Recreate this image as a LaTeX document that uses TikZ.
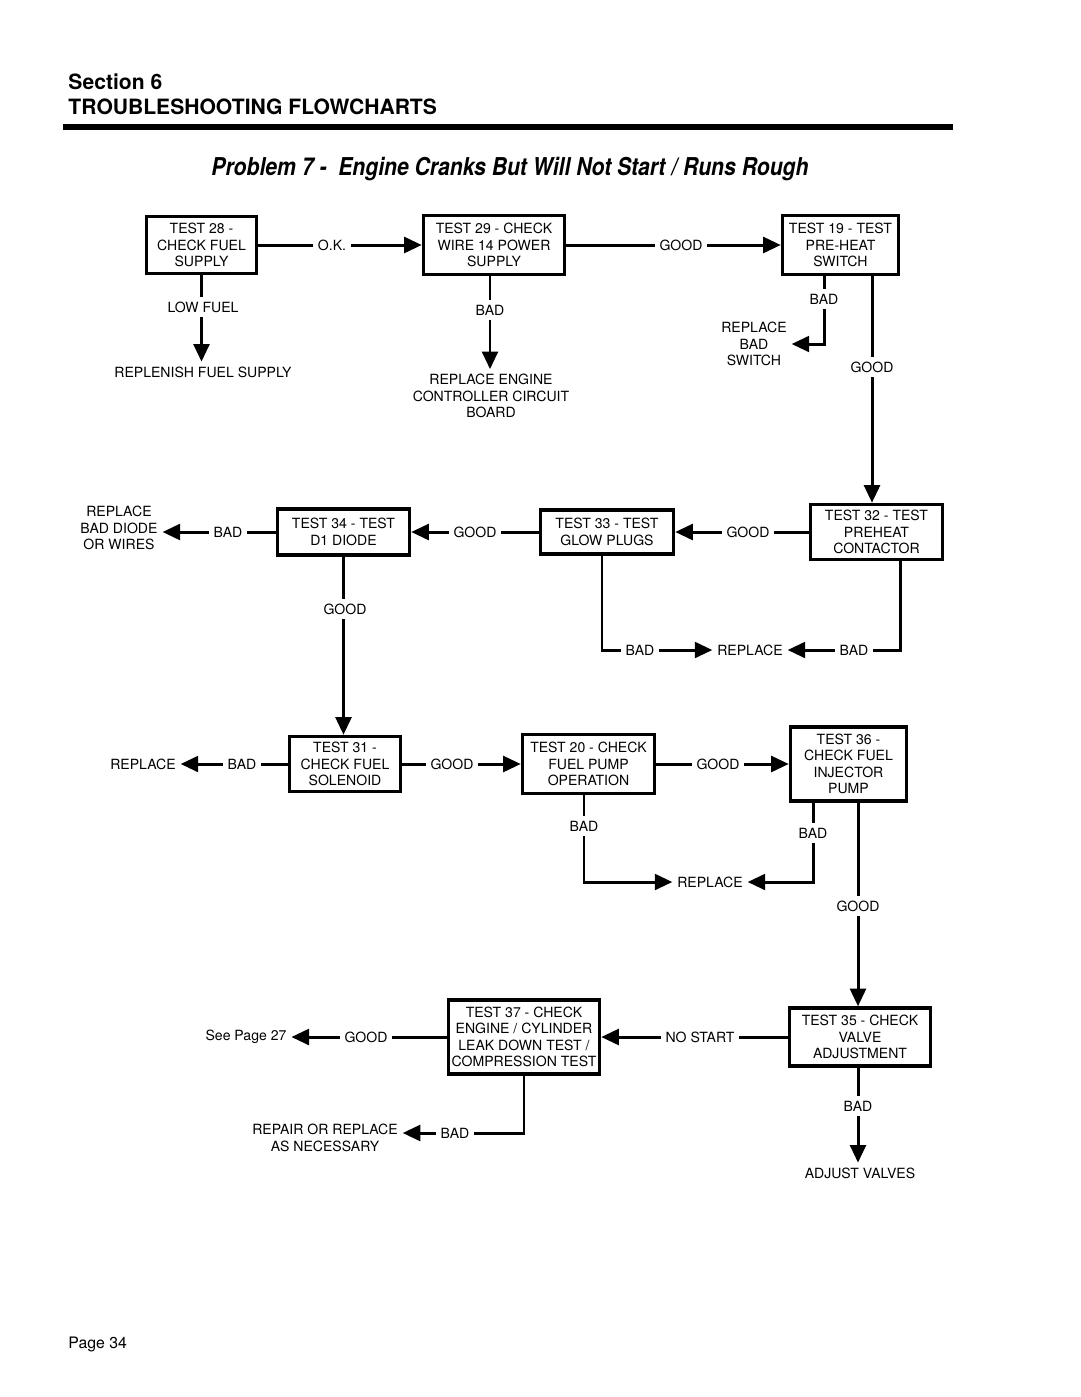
\documentclass[tikz,border=0pt]{standalone}
\usepackage{fontspec}
\setmainfont{TeX Gyre Heros}
\newfontfamily\titlefont[FakeStretch=0.86]{TeX Gyre Heros}
\usetikzlibrary{arrows.meta,positioning}

\begin{document}
\begin{tikzpicture}[x=0.02cm,y=-0.02cm,>={Triangle[length=10pt,width=9pt]},line width=1.7pt]
  \tikzstyle{test}=[draw=black,line width=2pt,align=center,inner sep=1pt,font=\fontsize{8}{9.4}\selectfont]
  \tikzstyle{lbl}=[align=center,inner sep=2pt,font=\fontsize{8}{9.4}\selectfont]

  \useasboundingbox (0,0) rectangle (1080,1397);

  % Heading
  \node[anchor=base west,inner sep=0pt,font=\bfseries\fontsize{12}{14}\selectfont] (sec) at (67,89) {Section 6};
  \node[anchor=base west,inner sep=0pt,font=\bfseries\fontsize{12}{14}\selectfont] (ttl) at (67,114) {TROUBLESHOOTING FLOWCHARTS};
  \fill (63,124) rectangle (953,130);
  \node[anchor=base,inner sep=0pt,font=\titlefont\bfseries\itshape\fontsize{14}{16}\selectfont] (prob) at (510,175) {Problem 7 -\ \ Engine Cranks But Will Not Start / Runs Rough};
  \node[anchor=base west,inner sep=0pt,font=\fontsize{9}{11}\selectfont] (page) at (67,1348) {Page 34};

  % Tests
  \node[test,minimum width=2.2cm,minimum height=1.14cm] (t28) at (201.5,245) {TEST 28 -\\CHECK FUEL\\SUPPLY};
  \node[test,minimum width=2.82cm,minimum height=1.18cm] (t29) at (494,245) {TEST 29 - CHECK\\WIRE 14 POWER\\SUPPLY};
  \node[test,minimum width=2.32cm,minimum height=1.18cm] (t19) at (840.5,245) {TEST 19 - TEST\\PRE-HEAT\\SWITCH};
  \node[test,minimum width=2.64cm,minimum height=1.1cm] (t32) at (876.5,532) {TEST 32 - TEST\\PREHEAT\\CONTACTOR};
  \node[test,minimum width=2.66cm,minimum height=0.88cm] (t33) at (607,532) {TEST 33 - TEST\\GLOW PLUGS};
  \node[test,minimum width=2.64cm,minimum height=0.92cm] (t34) at (343.5,532) {TEST 34 - TEST\\D1 DIODE};
  \node[test,minimum width=2.22cm,minimum height=1.1cm] (t31) at (345,764) {TEST 31 -\\CHECK FUEL\\SOLENOID};
  \node[test,minimum width=2.64cm,minimum height=1.18cm] (t20) at (588.5,764) {TEST 20 - CHECK\\FUEL PUMP\\OPERATION};
  \node[test,minimum width=2.32cm,minimum height=1.48cm] (t36) at (848.5,764) {TEST 36 -\\CHECK FUEL\\INJECTOR\\PUMP};
  \node[test,minimum width=3.02cm,minimum height=1.48cm] (t37) at (524,1037) {TEST 37 - CHECK\\ENGINE / CYLINDER\\LEAK DOWN TEST /\\COMPRESSION TEST};
  \node[test,minimum width=2.82cm,minimum height=1.16cm] (t35) at (860,1037) {TEST 35 - CHECK\\VALVE\\ADJUSTMENT};

  % Results
  \node[lbl] (repl28) at (203,372) {REPLENISH FUEL SUPPLY};
  \node[lbl] (rep29) at (491,396) {REPLACE ENGINE\\CONTROLLER CIRCUIT\\BOARD};
  \node[lbl] (rep19) at (754,344) {REPLACE\\BAD\\SWITCH};
  \node[lbl] (rep34) at (119,528) {REPLACE\\BAD DIODE\\OR WIRES};
  \node[lbl] (rep33) at (750,650) {REPLACE};
  \node[lbl] (rep31) at (143,764) {REPLACE};
  \node[lbl] (rep20) at (710,882) {REPLACE};
  \node[lbl] (see27) at (246,1037) {See Page 27};
  \node[lbl] (rep37) at (325,1138) {REPAIR OR REPLACE\\AS NECESSARY};
  \node[lbl] (adj35) at (860,1173) {ADJUST VALVES};

  % Labels
  \node[lbl] (ok28) at (332,245) {O.K.};
  \node[lbl] (low28) at (203,307) {LOW FUEL};
  \node[lbl] (bad29) at (490,310) {BAD};
  \node[lbl] (good29) at (681,245) {GOOD};
  \node[lbl] (bad19) at (824,299) {BAD};
  \node[lbl] (good19) at (872,367) {GOOD};
  \node[lbl] (good32) at (748,532) {GOOD};
  \node[lbl] (bad32) at (854,650) {BAD};
  \node[lbl] (good33) at (475,532) {GOOD};
  \node[lbl] (bad33) at (640,650) {BAD};
  \node[lbl] (bad34) at (228,532) {BAD};
  \node[lbl] (good34) at (345,609) {GOOD};
  \node[lbl] (bad31) at (242,764) {BAD};
  \node[lbl] (good31) at (452,764) {GOOD};
  \node[lbl] (good20) at (718,764) {GOOD};
  \node[lbl] (bad20) at (584,826) {BAD};
  \node[lbl] (bad36) at (813,833) {BAD};
  \node[lbl] (good36) at (858,906) {GOOD};
  \node[lbl] (nost35) at (700,1037) {NO START};
  \node[lbl] (bad35) at (858,1106) {BAD};
  \node[lbl] (good37) at (366,1037) {GOOD};
  \node[lbl] (bad37) at (455,1133) {BAD};

  \coordinate (c33) at (602,650);
  \coordinate (c32) at (900,650);

  % Row 1
  \draw (t28) -- (t28 |- low28.north);
  \draw[->] (t28 |- low28.south) -- (t28 |- repl28.north);
  \draw (t29.south -| bad29) -- (bad29);
  \draw[->] (bad29) -- (bad29 |- rep29.north);
  \draw (t28) -- (ok28);
  \draw[->] (ok28) -- (t29);
  \draw (t29) -- (good29);
  \draw[->] (good29) -- (t19);
  \draw (t19.south -| bad19) -- (bad19);
  \draw[->] (bad19) |- (rep19);
  \draw (t19.south -| good19) -- (good19);
  \draw[->] (good19) -- (good19 |- t32.north);

  % Row 2
  \draw (t32) -- (good32);
  \draw[->] (good32) -- (t33);
  \draw (t33) -- (good33);
  \draw[->] (good33) -- (t34);
  \draw (t34) -- (bad34);
  \draw[->] (bad34) -- (bad34 -| rep34.east);
  \draw (t34) -- (t34 |- good34.north);
  \draw[->] (t34 |- good34.south) -- (t34 |- t31.north);
  \draw (t33.south -| c33) -- (c33) -- (bad33);
  \draw[->] (bad33) -- (rep33);
  \draw (t32.south -| c32) -- (c32) -- (bad32);
  \draw[->] (bad32) -- (rep33);

  % Row 3
  \draw (t31) -- (bad31);
  \draw[->] (bad31) -- (rep31);
  \draw (t31) -- (good31);
  \draw[->] (good31) -- (t20);
  \draw (t20) -- (good20);
  \draw[->] (good20) -- (t36);
  \draw (t20.south -| bad20) -- (bad20);
  \draw[->] (bad20) |- (rep20);
  \draw (t36.south -| bad36) -- (bad36);
  \draw[->] (bad36) |- (rep20);
  \draw (t36.south -| good36) -- (good36);
  \draw[->] (good36) -- (good36 |- t35.north);

  % Row 4
  \draw (t35) -- (nost35);
  \draw[->] (nost35) -- (t37);
  \draw (t37) -- (good37);
  \draw[->] (good37) -- (see27);
  \draw (t37) |- (bad37);
  \draw[->] (bad37) -- (bad37 -| rep37.east);
  \draw (t35.south -| bad35) -- (bad35);
  \draw[->] (bad35) -- (bad35 |- adj35.north);

\end{tikzpicture}
\end{document}
